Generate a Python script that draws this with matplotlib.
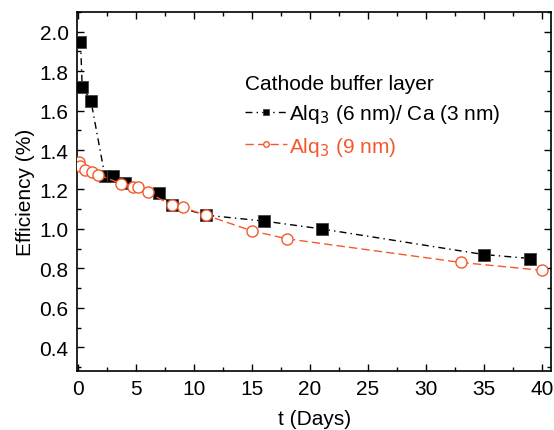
import matplotlib.pyplot as plt
from matplotlib.ticker import MultipleLocator

plt.rcParams['font.family'] = ['Liberation Sans', 'DejaVu Sans']

# Alq3 (6 nm)/ Ca (3 nm)
t_ca = [0.2, 0.35, 1.1, 2.3, 3.0, 4.0, 7.0, 8.1, 11.0, 16.0, 21.0, 35.0, 39.0]
eff_ca = [1.95, 1.72, 1.65, 1.27, 1.27, 1.235, 1.18, 1.12, 1.07, 1.04, 1.0, 0.87, 0.85]

# Alq3 (9 nm)
t_alq = [0.05, 0.15, 0.6, 1.2, 1.7, 3.7, 4.7, 5.2, 6.0, 8.1, 9.0, 11.0, 15.0, 18.0, 33.0, 40.0]
eff_alq = [1.34, 1.32, 1.30, 1.29, 1.275, 1.23, 1.215, 1.21, 1.185, 1.12, 1.11, 1.07,
           0.99, 0.95, 0.83, 0.79]

red = '#f4592e'

fig = plt.figure(figsize=(5.54, 4.31), dpi=100)
ax = fig.add_axes([0.139, 0.137, 0.856, 0.833])

ax.plot(t_ca, eff_ca, color='black', lw=1.0, ls=(0, (5, 3, 1, 3)),
        marker='s', ms=9, mfc='black', mec='#444444', mew=0.6,
        label='Alq$_3$ (6 nm)/ Ca (3 nm)', zorder=3)
ax.plot(t_alq, eff_alq, color=red, lw=1.0, ls=(0, (6, 3)),
        marker='o', ms=8, mfc='white', mec=red, mew=1.0,
        label='Alq$_3$ (9 nm)', zorder=4)

ax.set_xlim(-0.1, 40.8)
ax.set_ylim(0.28, 2.1)
ax.xaxis.set_major_locator(MultipleLocator(5))
ax.xaxis.set_minor_locator(MultipleLocator(2.5))
ax.yaxis.set_major_locator(MultipleLocator(0.2))
ax.yaxis.set_minor_locator(MultipleLocator(0.1))
ax.yaxis.set_major_formatter(plt.FormatStrFormatter('%.1f'))
ax.tick_params(which='both', direction='in', top=True, right=True, width=1.0)
ax.tick_params(which='major', length=5, labelsize=15, pad=6)
ax.tick_params(which='minor', length=3)
for s in ax.spines.values():
    s.set_linewidth(1.2)

ax.set_xlabel('t (Days)', fontsize=15, labelpad=8)
ax.set_ylabel('Efficiency (%)', fontsize=15, labelpad=3)

leg = ax.legend(loc='upper left', bbox_to_anchor=(0.315, 0.88), frameon=False,
                title='Cathode buffer layer', title_fontsize=15, fontsize=15,
                alignment='left', handlelength=2.0, markerscale=0.5,
                labelcolor=['black', red], handletextpad=0.1, labelspacing=0.45)

fig.savefig('out.png', dpi=100)
